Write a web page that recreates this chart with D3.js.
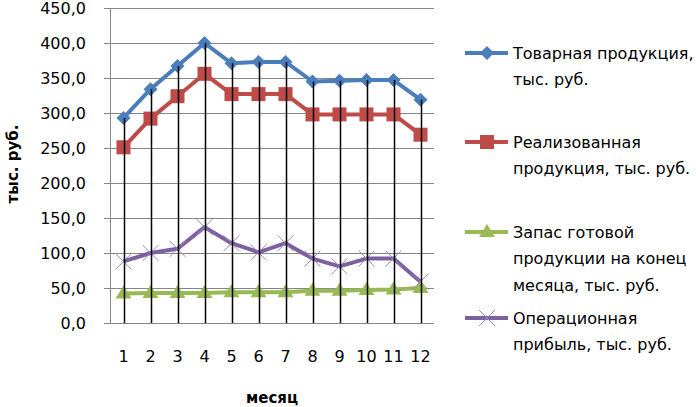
<!DOCTYPE html>
<html>
<head>
<meta charset="utf-8">
<script src="https://d3js.org/d3.v7.min.js"></script>
<style>
    html, body {
        margin: 0;
        padding: 0;
        background: #fff;
    }
    text {
        font-family: "DejaVu Sans", sans-serif;
    }
</style>
</head>
<body>
<script>
    var months = [1, 2, 3, 4, 5, 6, 7, 8, 9, 10, 11, 12];
    var yTicks = [0, 50, 100, 150, 200, 250, 300, 350, 400, 450];

    var tovarnaya = [293, 334, 367, 400, 371, 373, 373, 345, 346, 347, 347, 319];
    var realiz = [251, 292, 324, 356, 327, 327, 327, 298, 298, 298, 298, 269];
    var zapas = [42, 43, 43, 43, 44, 44, 44, 46, 46, 47, 48, 50];
    var pribyl = [88, 100, 106, 137, 114, 101, 114, 92, 81, 92, 92, 59];

    var seriesNames = [
        ["Товарная продукция,", "тыс. руб."],
        ["Реализованная", "продукция, тыс. руб."],
        ["Запас готовой", "продукции на конец", "месяца, тыс. руб."],
        ["Операционная", "прибыль, тыс. руб."]
    ];

    var width = 700, height = 407;
    var plot = {left: 110, right: 434, top: 8, bottom: 323};

    var svg = d3.select("body").append("svg")
        .attr("width", width)
        .attr("height", height);

    var x = d3.scaleBand().domain(months).range([plot.left, plot.right]).padding(0);
    var y = d3.scaleLinear().domain([0, 450]).range([plot.bottom, plot.top]);
    var cx = function (d, i) { return x(months[i]) + x.bandwidth() / 2; };

    // gridlines + y ticks
    svg.append("g").selectAll("line").data(yTicks).enter().append("line")
        .attr("x1", plot.left - 6).attr("x2", plot.right)
        .attr("y1", function (d) { return Math.round(y(d)) + 0.5; })
        .attr("y2", function (d) { return Math.round(y(d)) + 0.5; })
        .attr("stroke", "#868686").attr("stroke-width", 1);

    svg.append("line")
        .attr("x1", plot.left + 0.5).attr("x2", plot.left + 0.5)
        .attr("y1", plot.top).attr("y2", plot.bottom)
        .attr("stroke", "#868686");

    svg.append("g").selectAll("text").data(yTicks).enter().append("text")
        .attr("x", 86)
        .attr("y", function (d) { return y(d); })
        .attr("dy", "0.36em")
        .attr("text-anchor", "end")
        .attr("font-size", 16)
        .attr("fill", "#000")
        .text(function (d) { return d3.format(".1f")(d).replace(".", ","); });

    svg.append("g").selectAll("text").data(months).enter().append("text")
        .attr("x", function (d) { return x(d) + x.bandwidth() / 2; })
        .attr("y", 362)
        .attr("text-anchor", "middle")
        .attr("font-size", 16)
        .text(function (d) { return d; });

    // axis titles
    svg.append("text")
        .attr("transform", "translate(18,164) rotate(-90)")
        .attr("text-anchor", "middle")
        .attr("font-size", 15)
        .attr("font-weight", "bold")
        .text("тыс. руб.");

    svg.append("text")
        .attr("x", (plot.left + plot.right) / 2)
        .attr("y", 403)
        .attr("text-anchor", "middle")
        .attr("font-size", 15)
        .attr("font-weight", "bold")
        .text("месяц");

    var colors = ["#4A7EBB", "#BE4B48", "#98B954", "#7D60A0"];
    var allSeries = [tovarnaya, realiz, zapas, pribyl];

    var line = d3.line()
        .x(function (d, i) { return cx(d, i); })
        .y(function (d) { return y(d); });

    allSeries.forEach(function (s, k) {
        svg.append("path")
            .datum(s)
            .attr("d", line)
            .attr("fill", "none")
            .attr("stroke", colors[k])
            .attr("stroke-width", 4)
            .attr("stroke-linejoin", "round");
    });

    function drawMarker(g, k, px, py) {
        if (k == 0) {
            g.append("path")
                .attr("d", "M" + px + "," + (py - 7) + "L" + (px + 7) + "," + py + "L" + px + "," + (py + 7) + "L" + (px - 7) + "," + py + "Z")
                .attr("fill", colors[0]);
        } else if (k == 1) {
            g.append("rect")
                .attr("x", px - 7).attr("y", py - 7)
                .attr("width", 14).attr("height", 14)
                .attr("fill", colors[1]);
        } else if (k == 2) {
            g.append("path")
                .attr("d", "M" + px + "," + (py - 8) + "L" + (px + 8) + "," + (py + 5) + "L" + (px - 8) + "," + (py + 5) + "Z")
                .attr("fill", colors[2]);
        } else {
            g.append("path")
                .attr("d", "M" + (px - 8) + "," + (py - 8) + "L" + (px + 8) + "," + (py + 8) +
                    "M" + (px + 8) + "," + (py - 8) + "L" + (px - 8) + "," + (py + 8))
                .attr("stroke", "#9B86BF")
                .attr("stroke-width", 1)
                .attr("fill", "none");
        }
    }

    var markers = svg.append("g");
    allSeries.forEach(function (s, k) {
        s.forEach(function (v, i) {
            drawMarker(markers, k, cx(v, i), y(v));
        });
    });

    // drop lines from the top point down to the category axis
    svg.append("g").selectAll("line").data(months).enter().append("line")
        .attr("x1", function (d, i) { return Math.round(cx(d, i)) + 0.5; })
        .attr("x2", function (d, i) { return Math.round(cx(d, i)) + 0.5; })
        .attr("y1", function (d, i) { return y(d3.max(allSeries, function (s) { return s[i]; })); })
        .attr("y2", plot.bottom)
        .attr("stroke", "#000")
        .attr("stroke-width", 1.5);

    // legend
    var legendTop = [53, 142, 232, 318];
    var legend = svg.append("g");
    seriesNames.forEach(function (lines, k) {
        var ly = legendTop[k];
        legend.append("line")
            .attr("x1", 465).attr("x2", 508)
            .attr("y1", ly).attr("y2", ly)
            .attr("stroke", colors[k]).attr("stroke-width", 4);
        drawMarker(legend, k, 487, ly);
        var t = legend.append("text")
            .attr("x", 513)
            .attr("y", ly)
            .attr("font-size", 16);
        lines.forEach(function (l, j) {
            t.append("tspan")
                .attr("x", 513)
                .attr("y", ly + j * 26.7)
                .attr("dy", "0.36em")
                .text(l);
        });
    });
</script>
</body>
</html>
